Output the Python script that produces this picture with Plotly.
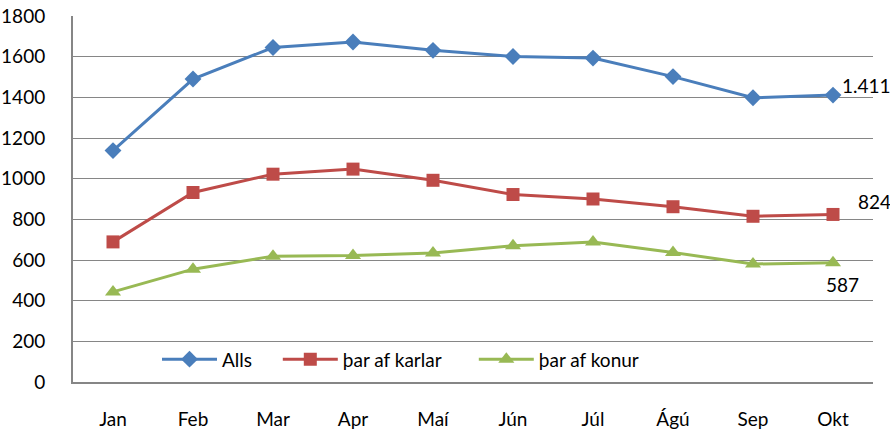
import plotly.graph_objects as go

months = ["Jan", "Feb", "Mar", "Apr", "Maí", "Jún", "Júl", "Ágú", "Sep", "Okt"]
alls = [1138, 1490, 1645, 1672, 1631, 1601, 1593, 1502, 1398, 1411]
karlar = [689, 932, 1022, 1047, 992, 922, 900, 862, 815, 824]
konur = [443, 555, 619, 622, 635, 670, 688, 637, 580, 587]
names = ["Alls", "þar af karlar", "þar af konur"]
y_ticks = [0, 200, 400, 600, 800, 1000, 1200, 1400, 1600, 1800]

FONT = "Lato"
FS = 19
colors = ["#4A7EBB", "#BE4B48", "#98B954"]
symbols = ["diamond", "square", "triangle-up"]
sizes = [13, 13, 14]
legend_ids = ["legend", "legend2", "legend3"]
legend_x = [0.105, 0.256, 0.501]

fig = go.Figure()
for name, vals, c, s, sz, lg in zip(names, [alls, karlar, konur], colors, symbols, sizes, legend_ids):
    fig.add_trace(go.Scatter(
        x=months, y=vals, name=name, mode="lines+markers",
        line=dict(color=c, width=3),
        marker=dict(symbol=s, size=sz, color=c),
        cliponaxis=False, legend=lg,
    ))

def fmt(v):
    return f"{v:,}".replace(",", ".")

label_offsets = [(7, 10), (23, 13), (-9, -22)]
for vals, (dx, dy) in zip([alls, karlar, konur], label_offsets):
    fig.add_annotation(
        x=months[-1], y=vals[-1], xref="x", yref="y",
        text=fmt(vals[-1]), showarrow=False,
        xanchor="left", yanchor="middle", xshift=dx, yshift=dy,
        font=dict(family=FONT, size=FS, color="#000000"),
    )

legend_common = dict(
    orientation="h", y=0.062, xanchor="left", yanchor="middle",
    bgcolor="rgba(0,0,0,0)", font=dict(family=FONT, size=FS),
    itemwidth=55,
)

fig.update_layout(
    width=890, height=432,
    margin=dict(l=73, r=17, t=16, b=50),
    plot_bgcolor="white", paper_bgcolor="white",
    font=dict(family=FONT, size=FS, color="#000000"),
    showlegend=True,
    legend=dict(x=legend_x[0], **legend_common),
    legend2=dict(x=legend_x[1], **legend_common),
    legend3=dict(x=legend_x[2], **legend_common),
    xaxis=dict(
        type="category", range=[-0.5, 9.5], automargin=False,
        showgrid=False, showline=True, linecolor="#868686", linewidth=2,
        ticks="", ticklabelstandoff=19, tickfont=dict(family=FONT, size=FS),
    ),
    yaxis=dict(
        range=[0, 1800], tickvals=y_ticks, automargin=False,
        showgrid=True, gridcolor="#868686", gridwidth=1,
        showline=True, linecolor="#868686", linewidth=2,
        zeroline=False, ticks="", ticklabelstandoff=22,
        tickfont=dict(family=FONT, size=FS),
    ),
)

fig.write_html(
    "out.html",
    config={"displayModeBar": False},
    post_script="document.body.style.margin='0';document.body.style.overflow='hidden';",
)
